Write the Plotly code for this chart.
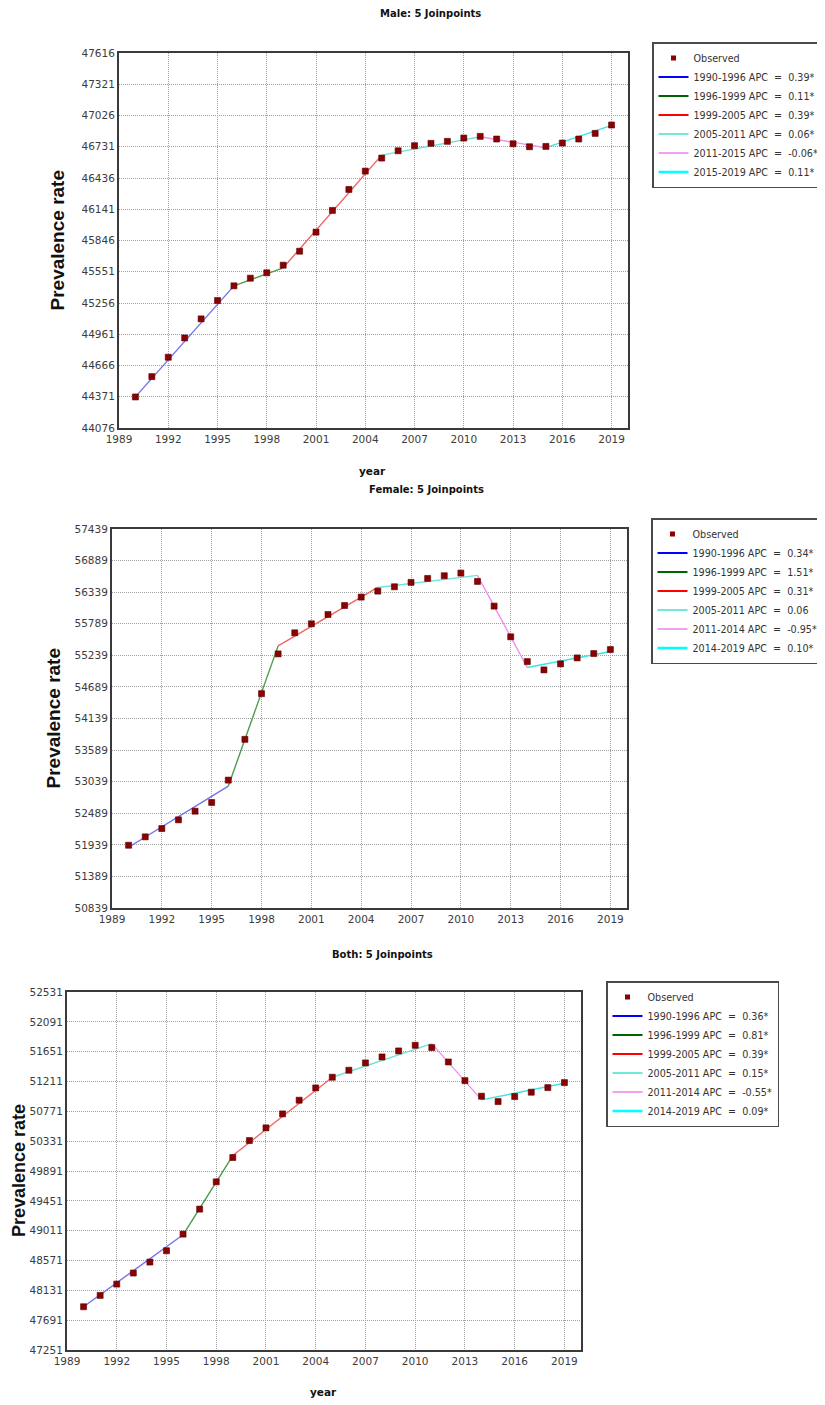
import plotly.graph_objects as go

# the page puts the figure 8px in from the top-left corner
OFF = 8
W, H = 825 - OFF, 1405 - OFF

years = list(range(1990, 2020))

# observed prevalence rates
male_obs = [44369, 44561, 44744, 44926, 45106, 45279, 45418, 45490, 45541, 45613,
            45745, 45925, 46130, 46328, 46501, 46624, 46693, 46741, 46763, 46782,
            46813, 46829, 46804, 46759, 46731, 46734, 46766, 46804, 46857, 46936]
female_obs = [51932, 52078, 52223, 52374, 52525, 52677, 53066, 53776, 54572, 55264,
              55631, 55788, 55950, 56107, 56253, 56357, 56433, 56509, 56578, 56625,
              56671, 56526, 56096, 55561, 55130, 54985, 55090, 55194, 55270, 55340]
both_obs = [47889, 48056, 48223, 48386, 48548, 48715, 48960, 49329, 49731, 50090,
            50340, 50527, 50733, 50935, 51116, 51274, 51377, 51485, 51573, 51662,
            51745, 51711, 51499, 51224, 50994, 50915, 50989, 51053, 51121, 51195]

# joinpoint years and fitted values at them
male_jp = [1990, 1996, 1999, 2005, 2011, 2015, 2019]
male_fit = [44370, 45418, 45588, 46652, 46826, 46722, 46932]
female_jp = [1990, 1996, 1999, 2005, 2011, 2014, 2019]
female_fit = [51897, 52961, 55404, 56421, 56631, 55026, 55305]
both_jp = [1990, 1996, 1999, 2005, 2011, 2014, 2019]
both_fit = [47889, 48950, 50119, 51274, 51770, 50940, 51185]

male_labels = ["1990-1996 APC  =  0.39*", "1996-1999 APC  =  0.11*", "1999-2005 APC  =  0.39*",
               "2005-2011 APC  =  0.06*", "2011-2015 APC  =  -0.06*", "2015-2019 APC  =  0.11*"]
female_labels = ["1990-1996 APC  =  0.34*", "1996-1999 APC  =  1.51*", "1999-2005 APC  =  0.31*",
                 "2005-2011 APC  =  0.06", "2011-2014 APC  =  -0.95*", "2014-2019 APC  =  0.10*"]
both_labels = ["1990-1996 APC  =  0.36*", "1996-1999 APC  =  0.81*", "1999-2005 APC  =  0.39*",
               "2005-2011 APC  =  0.15*", "2011-2014 APC  =  -0.55*", "2014-2019 APC  =  0.09*"]

# y axis: first tick and step
male_y = (44076, 295)
female_y = (50839, 550)
both_y = (47251, 440)

titles = ["Male: 5 Joinpoints", "Female: 5 Joinpoints", "Both: 5 Joinpoints"]

seg_colors = ['#7272f0', '#4f9a4f', '#f26464', '#72e2d6', '#ee92ee', '#3ee3e3']
leg_colors = ['#0000ff', '#006400', '#ff0000', '#40e0d0', '#ee82ee', '#00ffff']
leg_widths = [2.2, 2.2, 2.2, 1.4, 1.4, 2.6]

# pixel boxes of the plot areas (screen coords): left, top, right, bottom
boxes = [(119, 53, 628, 428), (112, 529, 627, 908), (67, 992, 581, 1350)]
legend_pos = [(652, 42), (651, 518), (606, 981)]
title_pos = [(430, 14), (426, 489), (382, 954)]
ytitle_x = [57, 53, 19]
ytitle_size = [19, 19, 18]
year_pos = [(372, 471), None, (323, 1392)]

FONT = "DejaVu Sans"

def px(x):
    return (x - OFF) / W

def py(y):
    return 1 - (y - OFF) / H

fig = go.Figure()

panels = [(male_obs, male_jp, male_fit, male_labels, male_y),
          (female_obs, female_jp, female_fit, female_labels, female_y),
          (both_obs, both_jp, both_fit, both_labels, both_y)]

for i, (obs, jp, fit, labels, yax) in enumerate(panels):
    n = '' if i == 0 else str(i + 1)
    xa, ya, lg = 'x' + n, 'y' + n, 'legend' + n

    # fitted segments
    for k in range(len(jp) - 1):
        fig.add_trace(go.Scatter(
            x=jp[k:k + 2], y=fit[k:k + 2], mode='lines',
            line=dict(color=seg_colors[k], width=1.4),
            xaxis=xa, yaxis=ya, showlegend=False, hoverinfo='skip'))
    # observed points
    fig.add_trace(go.Scatter(
        x=years, y=obs, mode='markers',
        marker=dict(symbol='square', size=6, color='#8b0000',
                    line=dict(color='#5a0000', width=0.6)),
        xaxis=xa, yaxis=ya, showlegend=False))

    # legend entries
    fig.add_trace(go.Scatter(
        x=[None], y=[None], mode='markers', name='Observed',
        marker=dict(symbol='square', size=5, color='#8b0000'),
        xaxis=xa, yaxis=ya, legend=lg))
    for k, lab in enumerate(labels):
        fig.add_trace(go.Scatter(
            x=[None], y=[None], mode='lines', name=lab.replace('  ', '\u00a0 '),
            line=dict(color=leg_colors[k], width=leg_widths[k]),
            xaxis=xa, yaxis=ya, legend=lg))

    l, t, r, b = boxes[i]
    y0, step = yax
    axis_common = dict(
        showgrid=True, gridcolor='#a0a0a0', griddash='1px,1px', gridwidth=1,
        showline=True, mirror=True, linecolor='#3a3a3a', linewidth=2,
        zeroline=False, ticks='', automargin=False,
        tickfont=dict(family=FONT, size=10.5, color='#3c3c3c'))
    fig.update_layout({
        'xaxis' + n: dict(
            domain=[px(l), px(r)], range=[1989, 2020], anchor=ya,
            tickmode='linear', tick0=1989, dtick=3, tickformat='d', **axis_common),
        'yaxis' + n: dict(
            domain=[py(b), py(t)], range=[y0, y0 + 12 * step], anchor=xa,
            tickmode='linear', tick0=y0, dtick=step, tickformat='d', **axis_common),
        lg: dict(
            x=px(legend_pos[i][0]), y=py(legend_pos[i][1]),
            xanchor='left', yanchor='top',
            bordercolor='#4a4a4a', borderwidth=1.5, bgcolor='white',
            font=dict(family=FONT, size=9.6, color='#333333'),
            tracegroupgap=0, itemwidth=30),
    })

    fig.add_annotation(x=px(title_pos[i][0]), y=py(title_pos[i][1]), xref='paper', yref='paper',
                       xanchor='center', yanchor='middle',
                       text='<b>' + titles[i] + '</b>', showarrow=False,
                       font=dict(family=FONT, size=10, color='#111111'))
    fig.add_annotation(x=px(ytitle_x[i]), y=py((t + b) / 2), xref='paper', yref='paper',
                       xanchor='center', yanchor='middle',
                       text='<b>Prevalence rate</b>', textangle=-90, showarrow=False,
                       font=dict(family='Liberation Sans', size=ytitle_size[i], color='#111111'))
    if year_pos[i]:
        fig.add_annotation(x=px(year_pos[i][0]), y=py(year_pos[i][1]), xref='paper', yref='paper',
                           xanchor='center', yanchor='middle',
                           text='<b>year</b>', showarrow=False,
                           font=dict(family=FONT, size=10.5, color='#111111'))

fig.update_layout(
    width=W, height=H,
    margin=dict(l=0, r=0, t=0, b=0, autoexpand=False),
    paper_bgcolor='white', plot_bgcolor='white',
)

fig.write_html("out.html")
